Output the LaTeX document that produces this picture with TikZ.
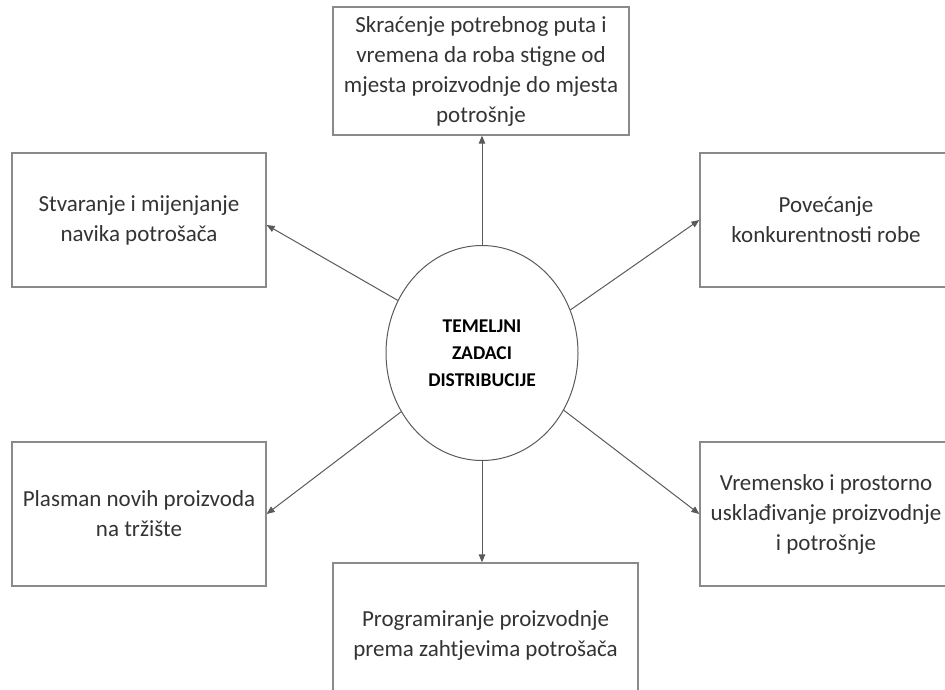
\documentclass[tikz,border=0pt]{standalone}
\usepackage{fontspec}
\setmainfont{Carlito}
\usetikzlibrary{arrows.meta,shapes.geometric}
\definecolor{boxline}{HTML}{8A8A8A}
\definecolor{arrline}{HTML}{5A5A5A}
\definecolor{txt}{HTML}{333333}
\tikzset{
  box/.style={draw=boxline, line width=1.3pt, align=center, inner sep=2pt,
    text=txt, font=\fontsize{23}{30}\selectfont},
  hub/.style={draw=arrline, line width=1pt, ellipse, align=center,
    text=black, font=\bfseries\fontsize{19.5}{27}\selectfont},
  conn/.style={draw=arrline, line width=1pt,
    -{Triangle[length=8pt,width=6.5pt]}},
}
\begin{document}
\begin{tikzpicture}[x=1pt,y=-1pt]
\useasboundingbox (0,0) rectangle (945,690);
\node[hub, minimum width=192pt, minimum height=215pt, inner sep=0pt] (c) at (482,353) {TEMELJNI\\ZADACI\\DISTRIBUCIJE};
\node[box, minimum width=296pt, minimum height=128pt] (top) at (481,71)
  {Skraćenje potrebnog puta i\\vremena da roba stigne od\\mjesta proizvodnje do mjesta\\potrošnje};
\node[box, minimum width=254pt, minimum height=134pt] (tl) at (139,220)
  {Stvaranje i mijenjanje\\navika potrošača};
\node[box, minimum width=252pt, minimum height=134pt] (tr) at (826,220)
  {Povećanje\\konkurentnosti robe};
\node[box, minimum width=254pt, minimum height=144pt] (bl) at (139,514)
  {Plasman novih proizvoda\\na tržište};
\node[box, minimum width=252pt, minimum height=144pt] (br) at (826,514)
  {Vremensko i prostorno\\usklađivanje proizvodnje\\i potrošnje};
\node[box, minimum width=305pt, minimum height=144pt] (bot) at (485.5,635)
  {Programiranje proizvodnje\\prema zahtjevima potrošača};
\draw[conn] (c.north) -- (c.north |- top.south);
\draw[conn] (c.south) -- (c.south |- bot.north);
\draw[conn] (c.148) -- ([yshift=-5pt]tl.east);
\draw[conn] (c.26) -- (tr.west);
\draw[conn] (c.216) -- (bl.east);
\draw[conn] (c.325) -- (br.west);
\end{tikzpicture}
\end{document}
